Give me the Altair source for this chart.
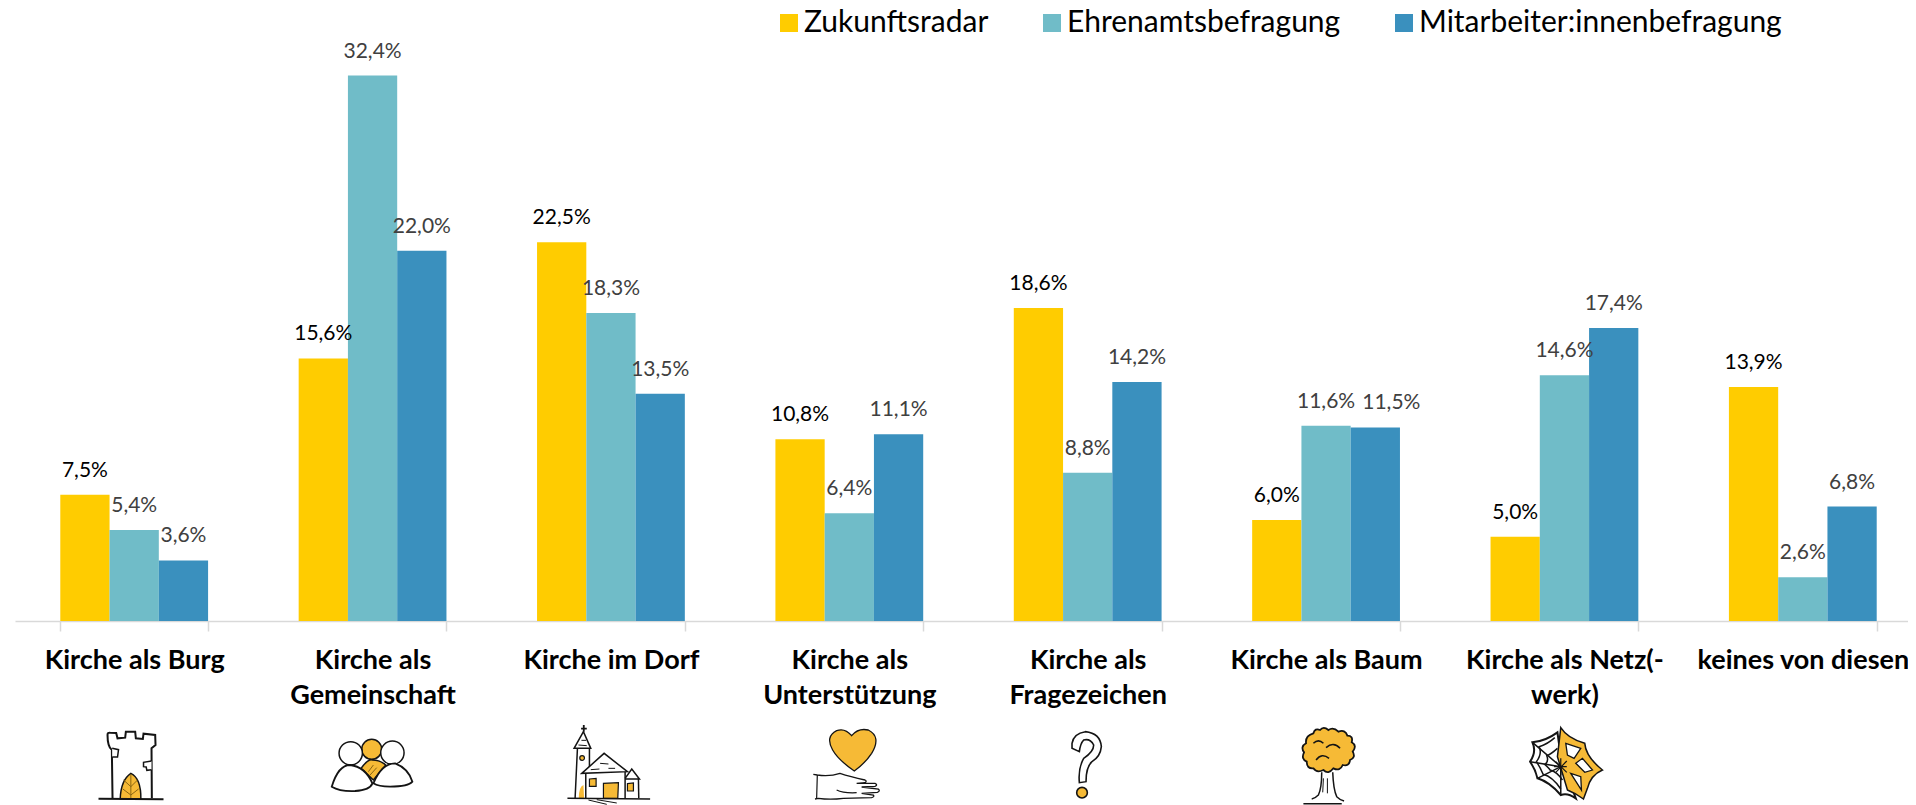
import re
import altair as alt
import pandas as pd

categories = ["Kirche als Burg", "Kirche als|Gemeinschaft", "Kirche im Dorf", "Kirche als|Unterstützung",
              "Kirche als|Fragezeichen", "Kirche als Baum", "Kirche als Netz(-\u00a0\u00a0\u00a0|werk)", "keines von diesen"]
series = ["Zukunftsradar", "Ehrenamtsbefragung", "Mitarbeiter:innenbefragung"]
zukunft = [7.5, 15.6, 22.5, 10.8, 18.6, 6.0, 5.0, 13.9]
ehrenamt = [5.4, 32.4, 18.3, 6.4, 8.8, 11.6, 14.6, 2.6]
mitarbeit = [3.6, 22.0, 13.5, 11.1, 14.2, 11.5, 17.4, 6.8]
colors = ["#FFCC00", "#70BCC8", "#3A90BE"]
label_colors = ["#000000", "#404040", "#404040"]

FONT = "Lato"
INK = "#141414"
GOLD = "#F6BA36"
WHITE = "#FFFFFF"
NONE = "transparent"


def circle(cx, cy, r):
    k = 0.5523 * r
    return (f"M{cx - r},{cy} C{cx - r},{cy - k} {cx - k},{cy - r} {cx},{cy - r} "
            f"C{cx + k},{cy - r} {cx + r},{cy - k} {cx + r},{cy} "
            f"C{cx + r},{cy + k} {cx + k},{cy + r} {cx},{cy + r} "
            f"C{cx - k},{cy + r} {cx - r},{cy + k} {cx - r},{cy} Z")


# Icon drawings: (path, fill, stroke, stroke width), in a 330x270 sketch box
tower = [
    ("M120,252 Q122,195 152,175 Q183,190 182,252 Z", GOLD, INK, 1.5),
    ("M152,178 L152,252 M152,215 L130,195 M152,215 L172,195 M152,240 L128,222 M152,240 L175,222", NONE, "#8A6512", 1),
    ("M97,250 L95,105 Q82,95 82,60 Q82,52 90,53 L108,54 L112,70 L135,68 L137,50 L165,50 L167,70 L188,72 L190,56 L225,60 L226,90 L214,100 L215,250", NONE, INK, 2),
    ("M96,100 L115,104 L112,126 L96,126", WHITE, INK, 1.5),
    ("M214,138 L190,142 L190,155 L198,156 L200,166 L214,164", WHITE, INK, 1.5),
    ("M55,251 L250,253", NONE, INK, 2),
]
people = [
    (circle(170, 103, 30), GOLD, INK, 1.5),
    ("M138,160 Q160,130 172,135 Q195,135 212,150 L175,195 Z", GOLD, INK, 1.5),
    ("M160,170 L175,150 M165,180 L185,158", NONE, "#8A6512", 1),
    (circle(107, 115, 35), WHITE, INK, 1.5),
    (circle(232, 113, 35), WHITE, INK, 1.5),
    ("M50,215 Q70,150 105,150 Q150,155 172,205 Q165,225 120,228 Q75,230 50,215 Z", WHITE, INK, 1.8),
    ("M175,205 Q200,145 240,145 Q280,160 292,200 Q280,215 225,215 Q190,215 175,205 Z", WHITE, INK, 1.8),
]
church = [
    ("M91,30 L91,50 M83,41 L100,41", NONE, INK, 1.8),
    ("M90,50 L62,100 L112,100 Z", WHITE, INK, 1.5),
    ("M75,90 L100,92 M84,76 L98,76", NONE, INK, 1),
    ("M72,100 L65,250 M108,100 L108,160", NONE, INK, 1.5),
    (circle(86, 129, 7), GOLD, INK, 1.2),
    ("M76,250 Q76,215 90,210 L92,250 Z", GOLD, NONE, 0),
    ("M215,190 L235,162 L258,192 L215,192", WHITE, INK, 1.5),
    ("M255,192 L256,250", NONE, INK, 1.5),
    ("M222,206 L240,204 L240,228 L222,228 Z", GOLD, INK, 1.2),
    ("M85,175 L152,115 L222,170 Z", WHITE, INK, 1.5),
    ("M97,175 L97,250 M215,170 L215,250", NONE, INK, 1.5),
    ("M112,164 L138,162 M140,145 L165,147 M165,160 L185,160", NONE, INK, 1),
    ("M108,192 L128,190 L128,214 L108,214 Z", GOLD, INK, 1.2),
    ("M150,250 L150,205 L195,203 L193,250 Z", GOLD, INK, 1.2),
    ("M42,250 L290,252", NONE, INK, 1.5),
    ("M105,255 L160,268 M130,254 L190,264", NONE, INK, 1),
]
heart = [
    ("M175,62 Q195,38 225,45 Q265,65 235,115 Q215,145 183,168 Q135,135 118,105 Q95,65 130,47 Q155,38 175,62 Z", GOLD, INK, 1.3),
    ("M60,178 L72,180 Q110,185 140,175 Q170,185 215,195 Q222,198 215,203 L190,205 L245,205 Q255,210 245,214 L205,216 L255,222 Q262,228 252,232 L205,235 L240,240 Q245,245 235,248 L150,250 Q110,255 75,250 L65,252", NONE, INK, 1.3),
    ("M72,180 L70,250 M130,225 Q150,235 190,233", NONE, INK, 1.2),
]
question = [
    ("M130,85 Q135,55 170,50 Q215,55 218,95 Q215,125 190,140 Q172,155 172,200 L152,203 Q148,160 165,130 Q195,110 195,90 Q185,70 165,75 Q155,85 152,110 L130,100 Z", WHITE, INK, 1.6),
    (circle(160, 233, 16), GOLD, INK, 1.6),
]
tree = [
    ("M155,172 Q155,220 145,240 Q135,250 125,252 M188,172 Q190,225 200,245 Q210,255 222,258", NONE, INK, 1.5),
    ("M160,190 L158,232 M172,190 L172,235", NONE, INK, 1),
    ("M100,266 L215,266", NONE, INK, 1.5),
    ("M130,55 Q135,38 150,45 Q160,32 175,45 Q190,35 205,50 Q225,42 232,62 Q250,62 245,82 Q262,92 248,110 Q258,128 240,135 Q238,155 218,150 Q210,170 190,160 Q175,180 160,165 Q140,175 130,160 Q110,162 110,140 Q92,132 102,112 Q90,95 108,85 Q105,62 130,55 Z", GOLD, INK, 1.8),
    ("M130,85 Q145,70 160,85 M168,98 Q190,78 210,100 M138,135 Q155,112 177,130", NONE, INK, 1.5),
]
web = [
    ("M150,52 Q115,78 75,82 Q88,110 68,140 Q85,165 90,190 Q125,200 160,240 Q180,232 205,250 L160,125 Z", WHITE, INK, 2),
    ("M142,68 Q120,88 95,95 Q105,115 87,140 Q100,160 107,178 Q135,185 160,222", NONE, INK, 1.5),
    ("M150,100 Q130,118 118,122 Q125,140 112,148 Q125,160 128,165 Q148,170 165,195", NONE, INK, 1.5),
    ("M75,82 L160,155 M68,140 L160,155 M90,190 L160,155 M160,240 L160,155", NONE, INK, 1.5),
    ("M160,38 Q180,70 232,85 Q235,125 285,165 Q250,180 240,220 L228,252 Q205,235 180,225 L150,125 Z", GOLD, INK, 1.5),
    ("M175,85 L220,100 L200,130 L180,120 Z", WHITE, INK, 1.3),
    ("M205,145 L225,130 L255,165 L232,172 Z", WHITE, INK, 1.3),
    ("M190,175 L220,185 L222,225 Z", WHITE, INK, 1.3),
    ("M140,155 L178,155 M160,130 L160,180 M145,140 L178,172 M145,172 L178,138", NONE, INK, 1.2),
]
icons = [tower, people, church, heart, question, tree, web]
# how far each sketch sits from the centre of its category, in screen pixels
icon_shift = [1, -2.5, -2.5, -1, -4, -1, -2]
BOX_X, BOX_Y = 165, 135


def recentre(path, shift):
    dx = shift * 3 - BOX_X
    def move(m):
        return f"{float(m.group(1)) + dx:g},{float(m.group(2)) - BOX_Y:g}"
    return re.sub(r"(-?[\d.]+),(-?[\d.]+)", move, path)


rows = []
for name, vals in zip(series, [zukunft, ehrenamt, mitarbeit]):
    for cat, v in zip(categories, vals):
        rows.append({"cat": cat, "series": name, "value": v,
                     "text": f"{v:.1f}%".replace(".", ","),
                     "labelColor": label_colors[series.index(name)],
                     "nudged": name == series[2] and cat == "Kirche als Baum"})
df = pd.DataFrame(rows)

icon_rows = []
order = 0
for cat, parts, shift in zip(categories, icons, icon_shift):
    for path, fill, stroke, sw in parts:
        icon_rows.append({"cat": cat, "path": recentre(path, shift), "fill": fill,
                          "stroke": stroke, "sw": sw, "order": order})
        order += 1
icon_df = pd.DataFrame(icon_rows)

x = alt.X("cat:N", sort=categories, title=None,
          scale=alt.Scale(domain=categories, paddingInner=0.38, paddingOuter=0.19, round=False),
          axis=alt.Axis(labelExpr="split(datum.label,'|')", labelAngle=0, labelFont=FONT, labelFontWeight="bold",
                        labelFontSize=27, labelColor="#000000", labelLimit=400, labelLineHeight=35, labelPadding=16,
                        labelBaseline="top", labelAlign="center",
                        domainColor="#D9D9D9", domainWidth=1.5, tickColor="#D9D9D9", tickWidth=1.5, tickSize=10,
                        tickBand="extent", grid=False, labelOverlap=False))
y = alt.Y("value:Q", title=None, scale=alt.Scale(domain=[0, 36], nice=False), axis=None)
offset = alt.XOffset("series:N", sort=series, scale=alt.Scale(domain=series))

bars = alt.Chart(df).mark_bar().encode(
    x=x, y=y, xOffset=offset,
    color=alt.Color("series:N", sort=series, scale=alt.Scale(domain=series, range=colors),
                    legend=alt.Legend(orient="none", legendX=759, legendY=-7, direction="horizontal", columns=3,
                                      title=None, symbolType="square", symbolSize=324, symbolStrokeWidth=0,
                                      labelFont=FONT, labelFontSize=30, labelColor="#000000", labelOffset=0,
                                      labelLimit=500, columnPadding=48, symbolOpacity=1)))

labels = alt.Chart(df).transform_filter("!datum.nudged").mark_text(
    font=FONT, fontSize=21, baseline="middle", dy=-24).encode(
    x=x, y=y, xOffset=offset, text="text:N",
    color=alt.Color("labelColor:N", scale=None))
nudged_labels = alt.Chart(df).transform_filter("datum.nudged").mark_text(
    font=FONT, fontSize=21, baseline="middle", dy=-24, dx=16).encode(
    x=x, y=y, xOffset=offset, text="text:N",
    color=alt.Color("labelColor:N", scale=None))

icon_marks = alt.Chart(icon_df).mark_point(opacity=1).encode(
    x=x,
    y=alt.value(745),
    shape=alt.Shape("path:N", scale=None),
    fill=alt.Fill("fill:N", scale=None),
    stroke=alt.Stroke("stroke:N", scale=None),
    strokeWidth=alt.StrokeWidth("sw:Q", scale=None),
    size=alt.value(4 / 9),
    order=alt.Order("order:Q"))

chart = alt.layer(bars, labels, nudged_labels, icon_marks).properties(
    width=1907, height=606, background="#FFFFFF",
    padding={"left": 7, "top": 7, "right": -14, "bottom": 184},
    autosize=alt.AutoSizeParams(type="none"),
).configure_view(stroke=None, strokeWidth=0)

chart.save("out.html", embed_options={"renderer": "svg", "actions": False})
